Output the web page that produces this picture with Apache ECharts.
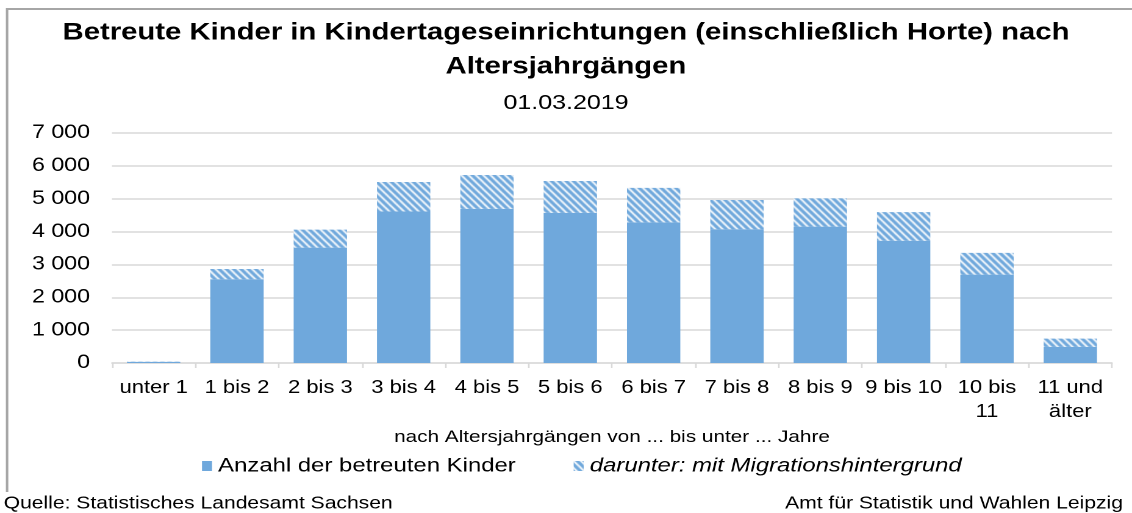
<!DOCTYPE html>
<html>
<head>
<meta charset="utf-8">
<script src="https://cdn.jsdelivr.net/npm/echarts@6/dist/echarts.min.js"></script>
<style>
html,body{margin:0;padding:0;background:#fff;overflow:hidden;width:1132px;height:513px;}
#chart{width:928px;height:513px;transform:scaleX(1.2198);transform-origin:0 0;}
</style>
</head>
<body>
<div id="chart"></div>
<script>
const categories = ['unter 1','1 bis 2','2 bis 3','3 bis 4','4 bis 5','5 bis 6','6 bis 7','7 bis 8','8 bis 9','9 bis 10','10 bis\n11','11 und\nälter'];
const totalChildren = [40, 2860, 4060, 5510, 5720, 5540, 5330, 4960, 5010, 4590, 3350, 740];
const migrationChildren = [5, 310, 550, 900, 1030, 970, 1050, 890, 860, 870, 660, 250];
const yTicks = [0, 1000, 2000, 3000, 4000, 5000, 6000, 7000];

const baseValues = totalChildren.map((t, i) => t - migrationChildren[i]);

const BLUE = '#6FA8DC';
function hatchCanvas() {
  const w = 6, h = 7;
  const c = document.createElement('canvas');
  c.width = w; c.height = h;
  const ctx = c.getContext('2d');
  ctx.fillStyle = BLUE;
  ctx.fillRect(0, 0, w, h);
  ctx.strokeStyle = '#ffffff';
  ctx.lineWidth = 1.6;
  ctx.beginPath();
  for (let k = -1; k <= 1; k++) {
    ctx.moveTo(k * w - w / h, -1);
    ctx.lineTo(k * w + w + w / h, h + 1);
  }
  ctx.stroke();
  return c;
}
const hatch = { image: hatchCanvas(), repeat: 'repeat' };

const FONT = 'Liberation Sans, Arial, sans-serif';
const chart = echarts.init(document.getElementById('chart'), null, { devicePixelRatio: 2 });
chart.setOption({
  animation: false,
  backgroundColor: '#fff',
  title: [
    {
      text: 'Betreute Kinder in Kindertageseinrichtungen (einschließlich Horte) nach\nAltersjahrgängen',
      subtext: '01.03.2019',
      left: 'center', top: 11,
      itemGap: 9,
      textStyle: { fontFamily: FONT, fontSize: 24, fontWeight: 'bold', color: '#000', lineHeight: 34 },
      subtextStyle: { fontFamily: FONT, fontSize: 20.5, color: '#000' }
    },
    {
      text: 'Quelle: Statistisches Landesamt Sachsen',
      left: 3, top: 495, padding: 0,
      textStyle: { fontFamily: FONT, fontSize: 17.3, fontWeight: 'normal', color: '#000' }
    },
    {
      text: 'Amt für Statistik und Wahlen Leipzig',
      right: 7.4, top: 495, padding: 0,
      textStyle: { fontFamily: FONT, fontSize: 17.3, fontWeight: 'normal', color: '#000' }
    }
  ],
  graphic: [{
    type: 'polyline',
    shape: { points: [[5.8, 492], [5.8, 9], [940, 9]] },
    style: { fill: 'none', stroke: '#A6A6A6', lineWidth: 2 },
    silent: true, z: -1
  }],
  legend: {
    left: 165.6, top: 456, padding: 0,
    itemWidth: 8.2, itemHeight: 10, itemGap: 47.5,
    icon: 'rect',
    textStyle: { fontFamily: FONT, fontSize: 19.6, color: '#000' },
    data: [
      { name: 'Anzahl der betreuten Kinder' },
      { name: 'darunter: mit Migrationshintergrund', textStyle: { fontStyle: 'italic' } }
    ]
  },
  grid: { left: 91.8, right: 16.4, top: 133, bottom: 150 },
  xAxis: {
    type: 'category',
    data: categories,
    name: 'nach Altersjahrgängen von ... bis unter ... Jahre',
    nameLocation: 'middle',
    nameGap: 66,
    nameTextStyle: { fontFamily: FONT, fontSize: 17, color: '#000' },
    axisLine: { lineStyle: { color: '#D9D9D9', width: 1.5 } },
    axisTick: { show: true, length: 5, lineStyle: { color: '#D9D9D9', width: 1.3 } },
    axisLabel: { fontFamily: FONT, fontSize: 18, color: '#000', margin: 13, lineHeight: 24, interval: 0 }
  },
  yAxis: {
    type: 'value',
    min: yTicks[0], max: yTicks[yTicks.length - 1], interval: 1000,
    axisLine: { show: false },
    axisTick: { show: false },
    splitLine: { lineStyle: { color: '#D9D9D9', width: 1.5 } },
    axisLabel: {
      fontFamily: FONT, fontSize: 19, color: '#000', margin: 18,
      formatter: v => String(v).replace(/\B(?=(\d{3})+(?!\d))/g, ' ')
    }
  },
  series: [
    {
      name: 'Anzahl der betreuten Kinder',
      type: 'bar', stack: 'k',
      barCategoryGap: '36%',
      itemStyle: { color: BLUE },
      data: baseValues
    },
    {
      name: 'darunter: mit Migrationshintergrund',
      type: 'bar', stack: 'k',
      barCategoryGap: '36%',
      itemStyle: { color: hatch },
      data: migrationChildren
    }
  ]
});
</script>
</body>
</html>
